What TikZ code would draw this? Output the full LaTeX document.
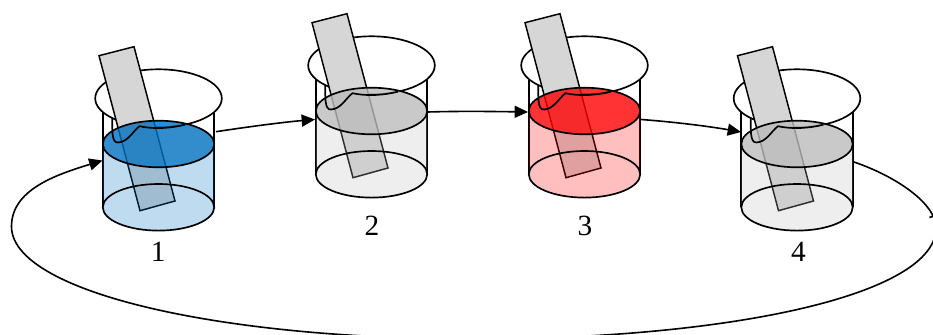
\documentclass[tikz,border=0pt]{standalone}
\usepackage{fontspec}
\setmainfont{Liberation Serif}
\usetikzlibrary{arrows.meta}
\definecolor{liqblue}{HTML}{0070C0}
\definecolor{liqgrey}{HTML}{BBBBBB}
\definecolor{liqred}{HTML}{FF0000}
\definecolor{stripgrey}{HTML}{D6D6D6}
\tikzset{
  outline/.style={draw=black,line width=1.25pt},
  flow/.style={draw=black,line width=1.2pt,-{Triangle[length=10pt,width=9pt]}},
  numlabel/.style={font=\fontsize{22}{24}\selectfont,anchor=base,inner sep=0pt},
  stripbody/.style={outline,fill=stripgrey},
  stripedge/.style={draw=black,line width=1.1pt,fill=stripgrey},
  lowerliquid/.style={fill opacity=.25},
  upperliquid/.style={fill opacity=.8}
}
% #1 dx, #2 dy, #3 colour
\newcommand{\mybeaker}[3]{%
  \begin{scope}[shift={(#1,#2)}]
    % glass rim and walls
    \draw[outline] (158.5,98.3) ellipse [x radius=63.3,y radius=29];
    \draw[outline] (102.8,112) -- (102.8,207.3);
    \draw[outline] (214.2,112) -- (214.2,207.3);
    % test strip
    \draw[stripedge] (99,55.7) -- (134,46.7) -- (175,201) -- (140,210.7) -- cycle;
    % liquid body, between the surface and the bottom
    \fill[#3,lowerliquid] (102.8,144)
      .. controls (102.8,156.9) and (127.7,167.3) .. (158.5,167.3)
      .. controls (189.3,167.3) and (214.2,156.9) .. (214.2,144)
      -- (214.2,207.3)
      .. controls (214.2,220.2) and (189.3,230.6) .. (158.5,230.6)
      .. controls (127.7,230.6) and (102.8,220.2) .. (102.8,207.3)
      -- cycle;
    % liquid surface
    \fill[#3,upperliquid] (158.5,144) ellipse [x radius=55.7,y radius=23.3];
    \draw[outline] (158.5,144) ellipse [x radius=55.7,y radius=23.3];
    % bottom of the beaker
    \draw[outline] (158.5,207.3) ellipse [x radius=55.7,y radius=23.3];
    % meniscus on the strip
    \draw[outline] (112.3,118) .. controls (112.5,128) and (111,143) .. (118,142.5)
      .. controls (128,142) and (133,131) .. (139.5,126.2)
      .. controls (155,129.5) and (172,128) .. (185,124.6);
  \end{scope}%
}
\begin{document}
\begin{tikzpicture}[x=0.75pt,y=-0.75pt]
  \useasboundingbox (0,0) rectangle (933,335);
  \clip (0,0) rectangle (933,335);
  \mybeaker{0}{0}{liqblue}
  \mybeaker{213}{-33}{liqgrey}
  \mybeaker{426}{-33}{liqred}
  \mybeaker{638.5}{0}{liqgrey}
  \node[numlabel] (n1) at (158.3,261) {1};
  \node[numlabel] (n2) at (372,235) {2};
  \node[numlabel] (n3) at (585,235) {3};
  \node[numlabel] (n4) at (798.5,261) {4};
  \coordinate (b1in) at (102.5,160.5);
  \coordinate (b1out) at (216,131.7);
  \coordinate (b2in) at (315,119.5);
  \coordinate (b2out) at (428,112);
  \coordinate (b3in) at (528,112);
  \coordinate (b3out) at (641,119.5);
  \coordinate (b4in) at (741,132);
  \coordinate (b4out) at (854,162);
  \draw[flow] (b1out) .. controls (250,126.5) and (285,122) .. (b2in);
  \draw[flow] (b2out) .. controls (460,111) and (495,111.5) .. (b3in);
  \draw[flow] (b3out) .. controls (675,122) and (710,126.5) .. (b4in);
  \draw[flow] (b4out) .. controls (895,176) and (936,203) .. (936,228)
    .. controls (936,295) and (730,339) .. (475,339)
    .. controls (210,339) and (11.5,290) .. (11.5,226.5)
    .. controls (11.5,190) and (55,175) .. (b1in);
  \draw[outline] (929.5,217.5) -- (933.5,216);
\end{tikzpicture}
\end{document}
